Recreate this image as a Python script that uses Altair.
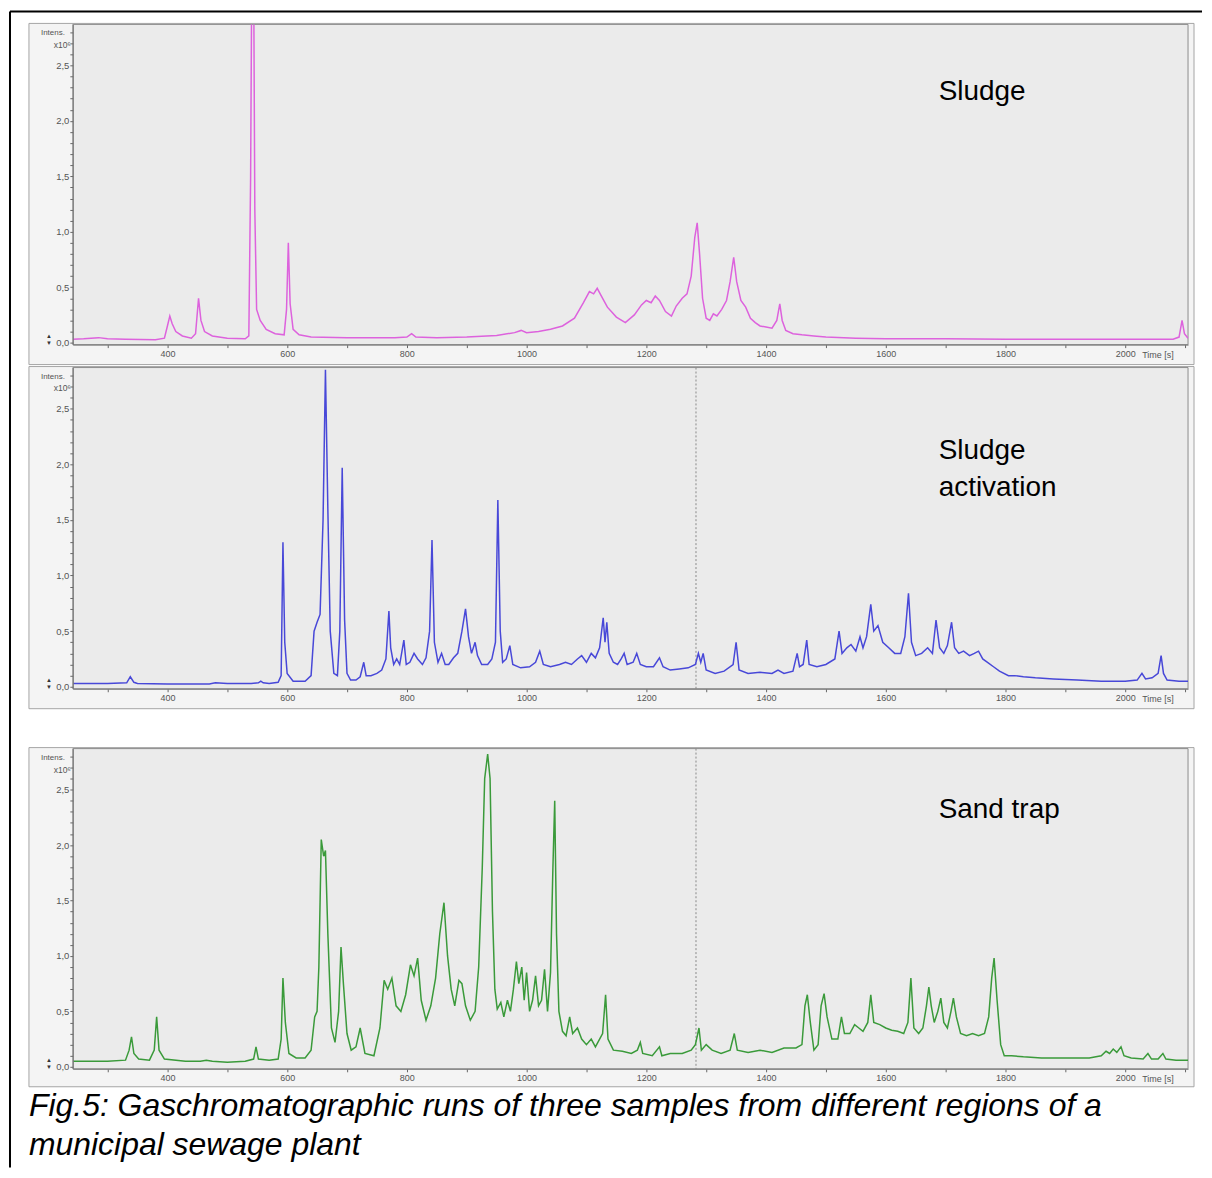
import altair as alt
import pandas as pd

# ---------------- data ----------------
sludge_t = [242, 260, 285, 300, 330, 380, 395, 400, 404, 408, 414, 425, 440, 447, 452, 456, 462, 475, 500, 530,
            536, 539, 541, 544, 546, 549, 555, 565, 580, 595, 599, 602, 605, 610, 620, 640, 700, 780, 800, 808,
            815, 850, 900, 950, 980, 991, 1000, 1020, 1040, 1060, 1080, 1095, 1105, 1112, 1118, 1125, 1135, 1150,
            1165, 1180, 1192, 1200, 1208, 1215, 1222, 1232, 1242, 1250, 1260, 1268, 1275, 1281, 1285, 1289, 1294,
            1300, 1306, 1312, 1318, 1326, 1334, 1340, 1346, 1351, 1358, 1366, 1374, 1382, 1390, 1400, 1410, 1418,
            1423, 1427, 1433, 1445, 1460, 1480, 1500, 1550, 1600, 1700, 1800, 1900, 2000, 2080, 2090, 2095, 2099,
            2105]
sludge_v = [0.03, 0.035, 0.045, 0.035, 0.03, 0.025, 0.04, 0.15, 0.24, 0.17, 0.10, 0.06, 0.04, 0.08, 0.40, 0.20,
            0.10, 0.06, 0.04, 0.035, 0.06, 1.5, 3.4, 3.4, 1.2, 0.30, 0.20, 0.12, 0.08, 0.07, 0.30, 0.90, 0.35,
            0.12, 0.07, 0.05, 0.045, 0.045, 0.05, 0.08, 0.05, 0.045, 0.05, 0.065, 0.09, 0.11, 0.09, 0.10, 0.12,
            0.15, 0.22, 0.36, 0.46, 0.44, 0.49, 0.42, 0.32, 0.23, 0.18, 0.25, 0.34, 0.38, 0.36, 0.42, 0.38, 0.28,
            0.24, 0.33, 0.40, 0.44, 0.60, 0.95, 1.08, 0.80, 0.40, 0.22, 0.20, 0.26, 0.24, 0.30, 0.38, 0.55, 0.77,
            0.55, 0.38, 0.32, 0.22, 0.18, 0.15, 0.14, 0.13, 0.20, 0.35, 0.20, 0.11, 0.08, 0.07, 0.06, 0.05, 0.04,
            0.035, 0.035, 0.03, 0.03, 0.03, 0.03, 0.05, 0.20, 0.08, 0.04]

act_t = [242, 300, 332, 338, 344, 350, 400, 470, 480, 500, 540, 552, 556, 560, 570, 585, 590, 593, 596, 600,
         610, 630, 640, 645, 650, 655, 660, 664, 668, 672, 678, 684, 688, 692, 696, 700, 706, 715, 722, 728,
         732, 740, 750, 758, 765, 770, 773, 778, 783, 788, 795, 799, 805, 812, 818, 826, 832, 838, 842, 846,
         852, 858, 864, 870, 878, 885, 892, 898, 903, 908, 914, 918, 925, 935, 942, 948, 952, 956, 960, 966,
         972, 977, 990, 1005, 1015, 1022, 1028, 1040, 1055, 1065, 1075, 1085, 1092, 1100, 1108, 1115, 1122,
         1128, 1131, 1134, 1138, 1145, 1152, 1158, 1163, 1168, 1178, 1184, 1190, 1200, 1212, 1222, 1228, 1240,
         1255, 1270, 1282, 1287, 1291, 1295, 1300, 1315, 1330, 1345, 1350, 1355, 1370, 1390, 1410, 1420, 1430,
         1445, 1452, 1456, 1462, 1468, 1472, 1485, 1500, 1515, 1522, 1527, 1535, 1542, 1550, 1557, 1562, 1568,
         1575, 1580, 1587, 1595, 1605, 1615, 1625, 1632, 1638, 1643, 1650, 1660, 1670, 1678, 1684, 1690, 1697,
         1703, 1710, 1715, 1722, 1730, 1740, 1748, 1755, 1762, 1770, 1780, 1790, 1805, 1815, 1830, 1850, 1880,
         1920, 1960, 2000, 2020, 2028, 2034, 2045, 2055, 2060, 2064, 2070, 2090, 2105]
act_v = [0.03, 0.03, 0.035, 0.09, 0.04, 0.03, 0.025, 0.025, 0.035, 0.03, 0.03, 0.035, 0.05, 0.035, 0.03, 0.04,
         0.10, 1.30, 0.40, 0.12, 0.05, 0.05, 0.10, 0.50, 0.58, 0.65, 1.50, 2.85, 1.60, 0.50, 0.12, 0.10, 0.50,
         1.97, 0.60, 0.12, 0.06, 0.06, 0.09, 0.22, 0.10, 0.10, 0.12, 0.15, 0.25, 0.68, 0.35, 0.20, 0.25, 0.20,
         0.42, 0.20, 0.22, 0.30, 0.25, 0.20, 0.26, 0.50, 1.32, 0.40, 0.22, 0.30, 0.20, 0.20, 0.26, 0.30, 0.50,
         0.70, 0.45, 0.30, 0.40, 0.28, 0.20, 0.20, 0.25, 0.40, 1.68, 0.50, 0.22, 0.25, 0.37, 0.20, 0.17, 0.18,
         0.22, 0.32, 0.20, 0.18, 0.20, 0.22, 0.20, 0.25, 0.28, 0.22, 0.30, 0.26, 0.35, 0.62, 0.40, 0.58, 0.30,
         0.22, 0.20, 0.25, 0.30, 0.20, 0.22, 0.30, 0.20, 0.18, 0.18, 0.26, 0.18, 0.15, 0.16, 0.17, 0.20, 0.30,
         0.22, 0.30, 0.15, 0.12, 0.14, 0.20, 0.40, 0.15, 0.12, 0.13, 0.12, 0.15, 0.12, 0.14, 0.30, 0.18, 0.20,
         0.42, 0.20, 0.18, 0.20, 0.25, 0.50, 0.30, 0.35, 0.38, 0.32, 0.45, 0.35, 0.45, 0.74, 0.50, 0.55, 0.40,
         0.35, 0.30, 0.30, 0.45, 0.84, 0.40, 0.28, 0.30, 0.35, 0.30, 0.60, 0.35, 0.30, 0.37, 0.58, 0.35, 0.30,
         0.32, 0.28, 0.30, 0.32, 0.25, 0.22, 0.18, 0.14, 0.10, 0.10, 0.09, 0.08, 0.07, 0.06, 0.05, 0.05, 0.06,
         0.12, 0.07, 0.08, 0.12, 0.28, 0.12, 0.06, 0.05, 0.05]

sand_t = [242, 300, 330, 336, 340, 344, 352, 370, 378, 382, 386, 395, 430, 455, 465, 475, 500, 530, 544, 548,
          552, 570, 585, 590, 593, 597, 603, 615, 630, 640, 646, 650, 653, 657, 661, 664, 668, 674, 680, 686,
          690, 694, 700, 707, 715, 722, 730, 745, 755, 762, 768, 775, 782, 790, 798, 806, 812, 818, 824, 832,
          840, 848, 855, 862, 868, 874, 880, 887, 892, 898, 906, 914, 920, 926, 930, 935, 939, 943, 947, 951,
          957, 962, 968, 973, 978, 983, 987, 992, 996, 1000, 1005, 1010, 1015, 1020, 1025, 1030, 1035, 1040,
          1044, 1047, 1050, 1054, 1060, 1066, 1072, 1077, 1085, 1092, 1100, 1108, 1115, 1122, 1127, 1132, 1136,
          1145, 1160, 1175, 1185, 1190, 1194, 1210, 1222, 1226, 1240, 1260, 1275, 1282, 1288, 1292, 1300, 1310,
          1325, 1340, 1347, 1352, 1370, 1390, 1410, 1430, 1450, 1460, 1465, 1469, 1474, 1480, 1487, 1492, 1497,
          1502, 1510, 1520, 1526, 1531, 1540, 1548, 1555, 1562, 1570, 1575, 1580, 1590, 1600, 1610, 1620, 1630,
          1637, 1642, 1647, 1655, 1662, 1668, 1672, 1676, 1681, 1687, 1692, 1697, 1703, 1709, 1713, 1718, 1725,
          1735, 1745, 1755, 1765, 1772, 1777, 1781, 1786, 1792, 1798, 1810, 1830, 1860, 1900, 1940, 1960, 1968,
          1974, 1980, 1986, 1993, 1998, 2010, 2030, 2038, 2044, 2055, 2063, 2068, 2085, 2105]
sand_v = [0.05, 0.05, 0.06, 0.15, 0.27, 0.12, 0.07, 0.06, 0.15, 0.45, 0.15, 0.07, 0.05, 0.05, 0.06, 0.05, 0.04,
          0.05, 0.07, 0.18, 0.07, 0.06, 0.07, 0.25, 0.80, 0.40, 0.12, 0.08, 0.08, 0.15, 0.45, 0.50, 0.90, 2.05,
          1.90, 1.95, 1.20, 0.35, 0.22, 0.50, 1.08, 0.75, 0.30, 0.15, 0.18, 0.35, 0.12, 0.10, 0.35, 0.78, 0.70,
          0.80, 0.55, 0.50, 0.65, 0.92, 0.82, 0.98, 0.60, 0.42, 0.55, 0.80, 1.20, 1.48, 1.00, 0.70, 0.55, 0.78,
          0.75, 0.55, 0.42, 0.50, 0.90, 1.80, 2.60, 2.82, 2.60, 1.40, 0.70, 0.52, 0.58, 0.45, 0.60, 0.50, 0.70,
          0.95, 0.75, 0.90, 0.60, 0.85, 0.50, 0.60, 0.82, 0.55, 0.60, 0.88, 0.50, 0.85, 1.80, 2.40, 1.20, 0.50,
          0.32, 0.28, 0.45, 0.30, 0.35, 0.25, 0.20, 0.25, 0.18, 0.25, 0.30, 0.65, 0.25, 0.15, 0.14, 0.12, 0.15,
          0.22, 0.12, 0.10, 0.18, 0.10, 0.12, 0.12, 0.15, 0.20, 0.35, 0.15, 0.20, 0.15, 0.12, 0.15, 0.30, 0.15,
          0.13, 0.15, 0.13, 0.17, 0.17, 0.20, 0.55, 0.65, 0.40, 0.15, 0.20, 0.55, 0.66, 0.45, 0.25, 0.25, 0.45,
          0.30, 0.30, 0.38, 0.35, 0.32, 0.40, 0.65, 0.40, 0.38, 0.35, 0.33, 0.32, 0.30, 0.40, 0.80, 0.35, 0.30,
          0.35, 0.55, 0.72, 0.55, 0.40, 0.50, 0.62, 0.40, 0.35, 0.50, 0.62, 0.45, 0.30, 0.28, 0.30, 0.28, 0.30,
          0.45, 0.80, 0.98, 0.60, 0.20, 0.10, 0.10, 0.09, 0.08, 0.08, 0.08, 0.10, 0.14, 0.12, 0.16, 0.13, 0.18,
          0.10, 0.08, 0.07, 0.12, 0.07, 0.07, 0.12, 0.07, 0.06, 0.06]

x_ticks = [300, 400, 500, 600, 700, 800, 900, 1000, 1100, 1200, 1300, 1400, 1500, 1600, 1700, 1800, 1900,
           2000, 2100]
y_ticks = [0.0, 0.1, 0.2, 0.3, 0.4, 0.5, 0.6, 0.7, 0.8, 0.9, 1.0, 1.1, 1.2, 1.3, 1.4, 1.5, 1.6, 1.7, 1.8,
           1.9, 2.0, 2.1, 2.2, 2.3, 2.4, 2.5, 2.6, 2.7, 2.8]
marker_t = [1283]
sample_names = [["Sludge"], ["Sludge", "activation"], ["Sand trap"]]
caption_lines = ["Fig.5: Gaschromatographic runs of three samples from different regions of a",
                 "municipal sewage plant"]

# ---------------- layout ----------------
X_DOM = [242, 2105]
Y_DOM = [-0.018, 2.87]
W = 1118
FONT = "Liberation Sans"
one = pd.DataFrame({"k": [0]})


def rect(x, x2, y, y2, fill, stroke):
    return alt.Chart(one).mark_rect(fill=fill, stroke=stroke, strokeWidth=1).encode(
        x=alt.value(x), x2=alt.value(x2), y=alt.value(y), y2=alt.value(y2))


def txt(s, x, y, size, align="left", color="#000", italic=False, baseline="alphabetic"):
    kw = dict(align=align, baseline=baseline, font=FONT, fontSize=size, color=color)
    if italic:
        kw["fontStyle"] = "italic"
    return alt.Chart(one).mark_text(**kw).encode(
        x=alt.value(x), y=alt.value(y), text=alt.value(s))


def panel(t, v, color, names, name_y, view_h, off, dashed, extra, frame_pad=20):
    df = pd.DataFrame({"t": t, "v": v})
    xs = alt.Scale(domain=X_DOM, nice=False, zero=False)
    ys = alt.Scale(domain=Y_DOM, nice=False, zero=False, range=[view_h, off])
    xaxis = alt.Axis(values=x_ticks, labelExpr="datum.value % 200 == 0 ? format(datum.value, 'd') : ''",
                     tickSize=3, tickColor="#666", domainColor="#777", labelFontSize=9, labelColor="#555",
                     labelFont=FONT, labelPadding=2, grid=False, zindex=1, labelOverlap=False,
                     labelFlush=False)
    yaxis = alt.Axis(values=y_ticks,
                     labelExpr="(round(datum.value*10) % 5 == 0) ? replace(format(datum.value, '.1f'), '.', ',') : ''",
                     tickSize=3, tickColor="#666", domainColor="#777", labelFontSize=9.5, labelColor="#555",
                     labelFont=FONT, labelPadding=1, grid=False, zindex=1, labelOverlap=False,
                     labelFlush=False)
    layers = [
        rect(-44, W + 6, off - 1, view_h + frame_pad, "#f4f4f4", "#a5a5a5"),
        rect(0, W, off, view_h, "#ebebeb", "#8c8c8c"),
    ]
    if dashed:
        layers.append(alt.Chart(pd.DataFrame({"t": marker_t})).mark_rule(
            color="#8a8a8a", strokeWidth=1, strokeDash=[2, 2]).encode(
            x=alt.X("t:Q", scale=xs), y=alt.value(off), y2=alt.value(view_h)))
    layers.append(alt.Chart(df).mark_line(color=color, strokeWidth=1.5, clip=True).encode(
        x=alt.X("t:Q", scale=xs, axis=xaxis, title=None),
        y=alt.Y("v:Q", scale=ys, axis=yaxis, title=None)))
    layers += [
        txt("Intens.", -8, off + 9, 8, align="right", color="#555", baseline="middle"),
        txt("x10\u2076", -2, off + 21, 8.5, align="right", color="#555", baseline="middle"),
        txt("\u25b2", -24, view_h - 9, 6, align="center", color="#333", baseline="middle"),
        txt("\u25bc", -24, view_h - 2, 6, align="center", color="#333", baseline="middle"),
        txt("Time [s]", 1072, view_h + 10, 9, color="#555", baseline="middle"),
    ]
    for i, nm in enumerate(names):
        layers.append(txt(nm, 868, name_y + i * 37, 28))
    layers += extra
    return alt.layer(*layers).properties(width=W, height=view_h)


frame = [
    alt.Chart(one).mark_rule(color="#000", strokeWidth=2).encode(
        x=alt.value(-63), x2=alt.value(1132), y=alt.value(-13)),
    alt.Chart(one).mark_rule(color="#000", strokeWidth=2).encode(
        x=alt.value(-63), y=alt.value(-13), y2=alt.value(1146)),
]
caption = [
    txt(caption_lines[0], -44, 405, 32, italic=True),
    txt(caption_lines[1], -44, 444, 32, italic=True),
]

p1 = panel(sludge_t, sludge_v, "#dd62dd", sample_names[0], 76, 321, 0, False, frame)
p2 = panel(act_t, act_v, "#4848d8", sample_names[1], 92, 322, 0, True, [])
p3 = panel(sand_t, sand_v, "#3a9a3a", sample_names[2], 107, 358, 37, True, caption, frame_pad=18)

chart = alt.vconcat(p1, p2, p3, spacing=23, bounds="flush").properties(
    padding={"left": 0, "top": 0, "right": 0, "bottom": 0}, background="white"
).configure_view(stroke="transparent")

chart.save("out.html", embed_options={"renderer": "svg", "actions": False})
